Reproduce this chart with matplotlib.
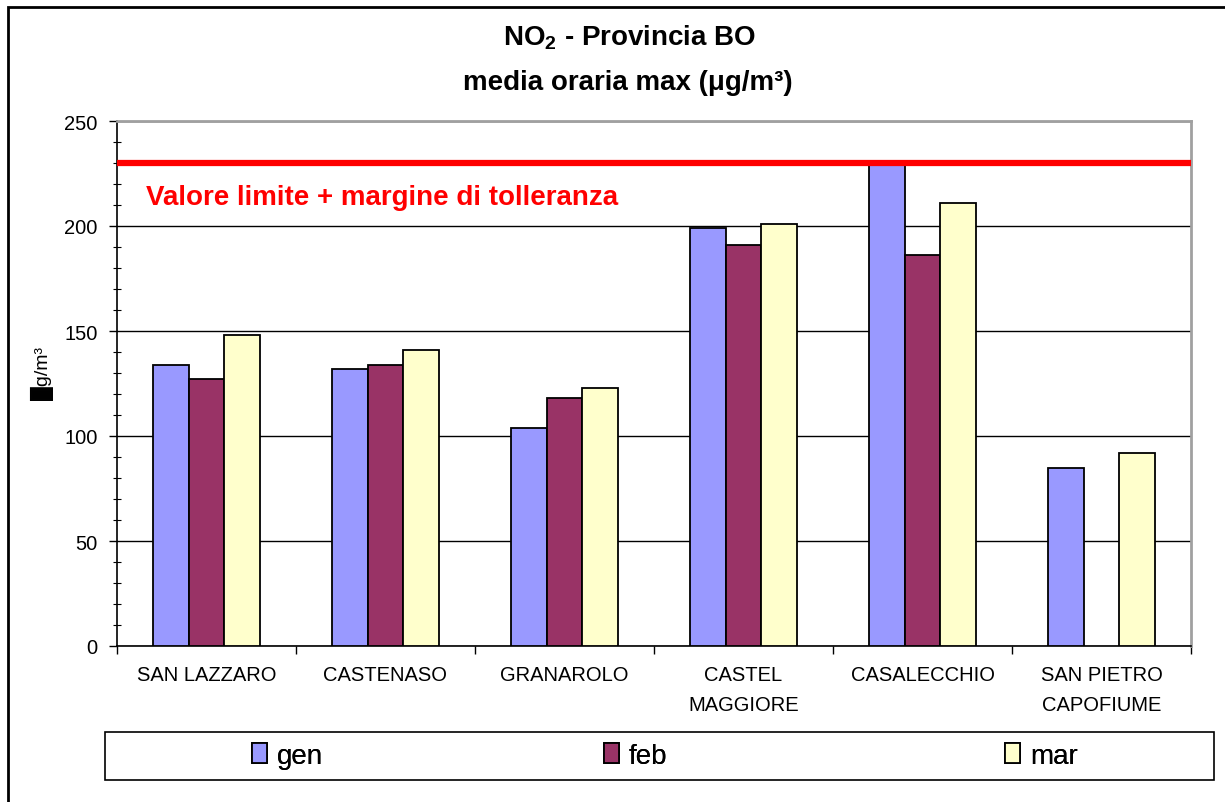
import numpy as np
import matplotlib
matplotlib.use("Agg")
import matplotlib.pyplot as plt
from matplotlib.patches import Rectangle
from matplotlib.ticker import MultipleLocator, FixedLocator, NullFormatter

plt.rcParams['font.family'] = ['Liberation Sans', 'DejaVu Sans']
plt.rcParams['mathtext.fontset'] = 'custom'
plt.rcParams['mathtext.bf'] = 'Liberation Sans:bold'
plt.rcParams['mathtext.rm'] = 'Liberation Sans'
plt.rcParams['mathtext.default'] = 'bf'

# ---- data ----
sites = ["SAN LAZZARO", "CASTENASO", "GRANAROLO", "CASTEL\nMAGGIORE",
         "CASALECCHIO", "SAN PIETRO\nCAPOFIUME"]
gen = [134, 132, 104, 199, 229, 85]
feb = [127, 134, 118, 191, 186, np.nan]
mar = [148, 141, 123, 201, 211, 92]
months = ["gen", "feb", "mar"]
limit_value = 230
limit_label = "Valore limite + margine di tolleranza"
title_line1 = r"NO$_2$ - Provincia BO"
title_line2 = "media oraria max (μg/m³)"
y_label = "\u2588g/m³"

colors = ["#9999FF", "#993366", "#FFFFCC"]

W, H = 1225, 803
fig = plt.figure(figsize=(W / 100, H / 100), dpi=100)
fig.patch.set_facecolor("white")

left, right, top, bottom = 117, 1191, 122, 647
ax = fig.add_axes([left / W, 1 - bottom / H, (right - left) / W, (bottom - top) / H])

x = np.arange(len(sites))
bw = 0.2
series = [gen, feb, mar]
containers = []
for i, (vals, c) in enumerate(zip(series, colors)):
    bc = ax.bar(x + (i - 1) * bw, vals, width=bw, color=c, edgecolor="black",
                linewidth=1.3, zorder=3)
    containers.append(bc)

ax.set_xlim(-0.5, len(sites) - 0.5)
ax.set_ylim(0, 250)

# gridlines
ax.yaxis.set_major_locator(MultipleLocator(50))
ax.yaxis.set_minor_locator(MultipleLocator(10))
ax.grid(axis="y", which="major", color="black", linewidth=1.0, zorder=0)
ax.set_axisbelow(True)

# limit line
ax.axhline(limit_value, color="#FF0000", linewidth=4.5, zorder=4)
fig.text(146 / W, 1 - 198 / H, limit_label, color="#FF0000", fontsize=20,
         fontweight="bold", va="center", ha="left")

# x ticks: boundaries as major tick marks, category labels as minor
ax.xaxis.set_major_locator(FixedLocator(np.arange(-0.5, len(sites), 1.0)))
ax.xaxis.set_major_formatter(NullFormatter())
ax.xaxis.set_minor_locator(FixedLocator(x))
ax.set_xticklabels(sites, minor=True, fontsize=14.5, linespacing=1.7)
ax.tick_params(axis="x", which="major", direction="out", length=6, width=1, color="black")
ax.tick_params(axis="x", which="minor", length=0, pad=14)

ax.tick_params(axis="y", which="major", direction="out", length=6, width=1,
               labelsize=14.5, pad=8)
ax.tick_params(axis="y", which="minor", direction="inout", length=6, width=0.8)

for s in ["top", "right"]:
    ax.spines[s].set_color("#A0A0A0")
    ax.spines[s].set_linewidth(2)
for s in ["left", "bottom"]:
    ax.spines[s].set_color("black")
    ax.spines[s].set_linewidth(1.2)

# titles
fig.text(630 / W, 1 - 38 / H, title_line1, ha="center", va="center",
         fontsize=20, fontweight="bold")
fig.text(628 / W, 1 - 83 / H, title_line2, ha="center", va="center",
         fontsize=20, fontweight="bold")

# y label
fig.text(42 / W, 1 - 374 / H, y_label, rotation=90, ha="center", va="center",
         fontsize=14)

# outer chart border (cut at right/bottom)
fig.patches.append(Rectangle((8 / W, -0.1), 1.2, 1 - 8 / H + 0.1,
                             transform=fig.transFigure, fill=False,
                             edgecolor="black", linewidth=2))

# legend frame
fig.patches.append(Rectangle((105 / W, 1 - 781 / H), (1214 - 105) / W, (781 - 733) / H,
                             transform=fig.transFigure, fill=False,
                             edgecolor="black", linewidth=1.2))
leg_x = [252, 604, 1005]
for bc, name, lx in zip(containers, months, leg_x):
    lg = fig.legend([bc], [name], loc="center left",
                    bbox_to_anchor=(lx / W, 1 - 757 / H), frameon=False,
                    fontsize=20, handlelength=0.55, handleheight=0.75,
                    handletextpad=0.35, borderpad=0, borderaxespad=0)
    fig.add_artist(lg)

fig.savefig("out.png", dpi=100)
